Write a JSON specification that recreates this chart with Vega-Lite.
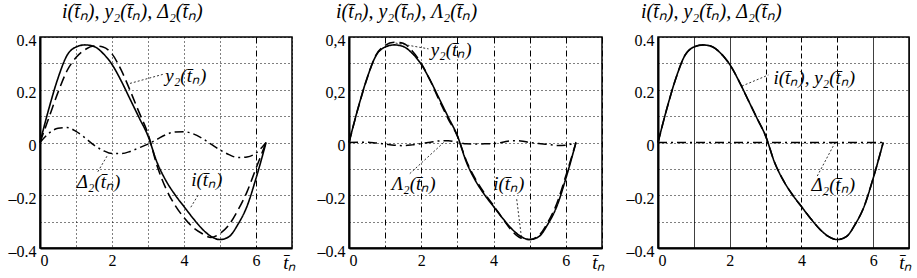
{
  "$schema": "https://vega.github.io/schema/vega-lite/v6.json",
  "background": "white",
  "padding": {"left": 7, "top": 1, "right": 0, "bottom": 0},
  "spacing": 19,
  "config": {
    "font": "Liberation Serif",
    "view": {"stroke": "black", "strokeWidth": 1.5},
    "axis": {
      "labelFont": "Liberation Serif", "labelFontSize": 16, "labelColor": "black",
      "ticks": false, "domainColor": "black", "domainWidth": 2,
      "grid": true, "gridColor": "black", "gridOpacity": 1, "gridWidth": 1, "gridDash": [1, 3],
      "titleFont": "Liberation Serif", "titleFontStyle": "italic", "titleFontWeight": "normal",
      "titleFontSize": 19, "titleColor": "black"
    },
    "text": {"font": "Liberation Serif", "fontStyle": "italic", "fontSize": 19, "color": "black"}
  },
  "datasets": {
    "c": [
      {"p":1,"t":0,"i":0,"y2":0,"d":0},
      {"p":1,"t":0.25,"i":0.13,"y2":0.095,"d":0.035},
      {"p":1,"t":0.5,"i":0.244,"y2":0.19,"d":0.054},
      {"p":1,"t":0.75,"i":0.33,"y2":0.272,"d":0.057},
      {"p":1,"t":1.0,"i":0.362,"y2":0.322,"d":0.042},
      {"p":1,"t":1.25,"i":0.37,"y2":0.352,"d":0.018},
      {"p":1,"t":1.5,"i":0.364,"y2":0.366,"d":-0.01},
      {"p":1,"t":1.75,"i":0.338,"y2":0.362,"d":-0.03},
      {"p":1,"t":2.0,"i":0.296,"y2":0.336,"d":-0.042},
      {"p":1,"t":2.25,"i":0.235,"y2":0.276,"d":-0.042},
      {"p":1,"t":2.5,"i":0.165,"y2":0.198,"d":-0.034},
      {"p":1,"t":2.75,"i":0.095,"y2":0.115,"d":-0.02},
      {"p":1,"t":3.0,"i":0.025,"y2":0.033,"d":-0.006},
      {"p":1,"t":3.25,"i":-0.075,"y2":-0.087,"d":0.012},
      {"p":1,"t":3.5,"i":-0.145,"y2":-0.175,"d":0.03},
      {"p":1,"t":3.75,"i":-0.198,"y2":-0.238,"d":0.04},
      {"p":1,"t":4.0,"i":-0.243,"y2":-0.285,"d":0.041},
      {"p":1,"t":4.25,"i":-0.287,"y2":-0.322,"d":0.033},
      {"p":1,"t":4.5,"i":-0.327,"y2":-0.345,"d":0.016},
      {"p":1,"t":4.75,"i":-0.356,"y2":-0.36,"d":-0.006},
      {"p":1,"t":5.0,"i":-0.368,"y2":-0.345,"d":-0.028},
      {"p":1,"t":5.25,"i":-0.357,"y2":-0.312,"d":-0.046},
      {"p":1,"t":5.5,"i":-0.31,"y2":-0.256,"d":-0.057},
      {"p":1,"t":5.75,"i":-0.242,"y2":-0.187,"d":-0.055},
      {"p":1,"t":6.0,"i":-0.136,"y2":-0.098,"d":-0.04},
      {"p":1,"t":6.28,"i":0,"y2":0,"d":0},

      {"p":2,"t":0,"i":0,"y2":0,"d":0},
      {"p":2,"t":0.25,"i":0.13,"y2":0.129,"d":0.001},
      {"p":2,"t":0.5,"i":0.244,"y2":0.243,"d":0.001},
      {"p":2,"t":0.75,"i":0.33,"y2":0.332,"d":-0.002},
      {"p":2,"t":1.0,"i":0.362,"y2":0.368,"d":-0.006},
      {"p":2,"t":1.25,"i":0.37,"y2":0.38,"d":-0.01},
      {"p":2,"t":1.5,"i":0.364,"y2":0.376,"d":-0.012},
      {"p":2,"t":1.75,"i":0.338,"y2":0.347,"d":-0.009},
      {"p":2,"t":2.0,"i":0.296,"y2":0.3,"d":-0.004},
      {"p":2,"t":2.25,"i":0.235,"y2":0.234,"d":0.001},
      {"p":2,"t":2.5,"i":0.165,"y2":0.159,"d":0.006},
      {"p":2,"t":2.75,"i":0.095,"y2":0.088,"d":0.007},
      {"p":2,"t":3.0,"i":0.025,"y2":0.024,"d":0.001},
      {"p":2,"t":3.25,"i":-0.075,"y2":-0.07,"d":-0.005},
      {"p":2,"t":3.5,"i":-0.145,"y2":-0.139,"d":-0.006},
      {"p":2,"t":3.75,"i":-0.198,"y2":-0.193,"d":-0.005},
      {"p":2,"t":4.0,"i":-0.243,"y2":-0.239,"d":-0.004},
      {"p":2,"t":4.25,"i":-0.287,"y2":-0.288,"d":0.001},
      {"p":2,"t":4.5,"i":-0.327,"y2":-0.334,"d":0.007},
      {"p":2,"t":4.75,"i":-0.356,"y2":-0.362,"d":0.006},
      {"p":2,"t":5.0,"i":-0.368,"y2":-0.368,"d":0},
      {"p":2,"t":5.25,"i":-0.357,"y2":-0.353,"d":-0.004},
      {"p":2,"t":5.5,"i":-0.31,"y2":-0.303,"d":-0.007},
      {"p":2,"t":5.75,"i":-0.242,"y2":-0.231,"d":-0.011},
      {"p":2,"t":6.0,"i":-0.136,"y2":-0.126,"d":-0.01},
      {"p":2,"t":6.28,"i":0,"y2":0,"d":0},

      {"p":3,"t":0,"i":0,"y2":0,"d":0},
      {"p":3,"t":0.25,"i":0.13,"y2":0.13,"d":0},
      {"p":3,"t":0.5,"i":0.244,"y2":0.244,"d":0},
      {"p":3,"t":0.75,"i":0.33,"y2":0.33,"d":0},
      {"p":3,"t":1.0,"i":0.362,"y2":0.362,"d":0},
      {"p":3,"t":1.25,"i":0.37,"y2":0.37,"d":0},
      {"p":3,"t":1.5,"i":0.364,"y2":0.364,"d":0},
      {"p":3,"t":1.75,"i":0.338,"y2":0.338,"d":0},
      {"p":3,"t":2.0,"i":0.296,"y2":0.296,"d":0},
      {"p":3,"t":2.25,"i":0.235,"y2":0.235,"d":0},
      {"p":3,"t":2.5,"i":0.165,"y2":0.165,"d":0},
      {"p":3,"t":2.75,"i":0.095,"y2":0.095,"d":0},
      {"p":3,"t":3.0,"i":0.025,"y2":0.025,"d":0},
      {"p":3,"t":3.25,"i":-0.075,"y2":-0.075,"d":0},
      {"p":3,"t":3.5,"i":-0.145,"y2":-0.145,"d":0},
      {"p":3,"t":3.75,"i":-0.198,"y2":-0.198,"d":0},
      {"p":3,"t":4.0,"i":-0.243,"y2":-0.243,"d":0},
      {"p":3,"t":4.25,"i":-0.287,"y2":-0.287,"d":0},
      {"p":3,"t":4.5,"i":-0.327,"y2":-0.327,"d":0},
      {"p":3,"t":4.75,"i":-0.356,"y2":-0.356,"d":0},
      {"p":3,"t":5.0,"i":-0.368,"y2":-0.368,"d":0},
      {"p":3,"t":5.25,"i":-0.357,"y2":-0.357,"d":0},
      {"p":3,"t":5.5,"i":-0.31,"y2":-0.31,"d":0},
      {"p":3,"t":5.75,"i":-0.242,"y2":-0.242,"d":0},
      {"p":3,"t":6.0,"i":-0.136,"y2":-0.136,"d":0},
      {"p":3,"t":6.28,"i":0,"y2":0,"d":0}
    ],
    "lab": [
      {"p":1,"t":3.48,"v":0.252,"txt":"y\u2082(t\u0304\u2099)"},
      {"p":1,"t":1.02,"v":-0.148,"txt":"\u0394\u2082(t\u0304\u2099)"},
      {"p":1,"t":4.2,"v":-0.144,"txt":"i(t\u0304\u2099)"},
      {"p":2,"t":2.26,"v":0.352,"txt":"y\u2082(t\u0304\u2099)"},
      {"p":2,"t":1.18,"v":-0.158,"txt":"\u039b\u2082(t\u0304\u2099)"},
      {"p":2,"t":3.99,"v":-0.158,"txt":"i(t\u0304\u2099)"},
      {"p":3,"t":3.22,"v":0.245,"txt":"i(t\u0304\u2099), y\u2082(t\u0304\u2099)"},
      {"p":3,"t":4.28,"v":-0.161,"txt":"\u0394\u2082(t\u0304\u2099)"}
    ],
    "lead": [
      {"p":1,"t":2.5,"v":0.224,"t2":3.43,"v2":0.259},
      {"p":1,"t":1.86,"v":-0.052,"t2":1.58,"v2":-0.117},
      {"p":1,"t":4.39,"v":-0.2,"t2":4.16,"v2":-0.252},
      {"p":2,"t":1.29,"v":0.377,"t2":2.2,"v2":0.355},
      {"p":2,"t":2.62,"v":0.0,"t2":1.65,"v2":-0.122},
      {"p":2,"t":4.64,"v":-0.215,"t2":4.77,"v2":-0.358},
      {"p":3,"t":2.34,"v":0.214,"t2":3.08,"v2":0.256},
      {"p":3,"t":4.94,"v":0.0,"t2":4.43,"v2":-0.13}
    ]
  },
  "hconcat": [
    {
      "width": 252, "height": 211,
      "title": {"text": "i(t\u0304\u2099), y\u2082(t\u0304\u2099), \u0394\u2082(t\u0304\u2099)", "anchor": "start", "frame": "group", "dx": 22, "offset": -10, "baseline": "bottom", "font": "Liberation Serif", "fontStyle": "italic", "fontWeight": "normal", "fontSize": 20, "color": "black"},
      "encoding": {
        "x": {"field": "t", "type": "quantitative", "scale": {"domain": [0, 7], "nice": false},
          "axis": {"values": [0,1,2,3,4,5,6,7], "labelExpr": "datum.value % 2 == 0 && datum.value < 7 ? datum.label : ''", "labelPadding": 4,
            "gridDash": {"condition": {"test": "datum.value == 6", "value": [6,3,1,3]}, "value": [1,3]},
            "title": "t\u0304\u2099", "titleX": 256, "titleY": 20, "titleAlign": "right", "titleBaseline": "alphabetic"}},
        "y": {"field": "v", "type": "quantitative", "scale": {"domain": [-0.4, 0.4], "nice": false},
          "axis": {"values": [-0.4,-0.3,-0.2,-0.1,0,0.1,0.2,0.3,0.4], "labelPadding": 4, "labelOffset": 3, "title": null,
            "labelExpr": "abs(round(datum.value*10)) % 2 == 1 ? '' : datum.value == 0 ? '0' : (datum.value < 0 ? '\u2013' : '') + format(abs(datum.value), '.1f')"}}
      },
      "layer": [
        {
          "data": {"name": "c"},
          "transform": [{"filter": "datum.p == 1"}, {"fold": ["i", "y2", "d"], "as": ["s", "v"]}],
          "mark": {"type": "line", "interpolate": "monotone", "color": "black"},
          "encoding": {
            "strokeDash": {"field": "s", "type": "nominal", "scale": {"domain": ["i","y2","d"], "range": [[1,0],[10,5],[9,4,2,4]]}, "legend": null},
            "strokeWidth": {"field": "s", "type": "nominal", "scale": {"domain": ["i","y2","d"], "range": [1.6,1.5,1.2]}, "legend": null}
          }
        },
        {
          "data": {"name": "lead"},
          "transform": [{"filter": "datum.p == 1"}],
          "mark": {"type": "rule", "color": "black", "strokeWidth": 0.8, "strokeDash": [2,2]},
          "encoding": {"x2": {"field": "t2"}, "y2": {"field": "v2"}}
        },
        {
          "data": {"name": "lab"},
          "transform": [{"filter": "datum.p == 1"}],
          "mark": {"type": "text", "align": "left", "baseline": "middle"},
          "encoding": {"text": {"field": "txt"}}
        }
      ]
    },
    {
      "width": 253, "height": 211,
      "title": {"text": "i(t\u0304\u2099), y\u2082(t\u0304\u2099), \u039b\u2082(t\u0304\u2099)", "anchor": "start", "frame": "group", "dx": -13, "offset": -10, "baseline": "bottom", "font": "Liberation Serif", "fontStyle": "italic", "fontWeight": "normal", "fontSize": 20, "color": "black"},
      "encoding": {
        "x": {"field": "t", "type": "quantitative", "scale": {"domain": [0, 7], "nice": false},
          "axis": {"values": [0,1,2,3,4,5,6,7], "labelExpr": "datum.value % 2 == 0 && datum.value < 7 ? datum.label : ''", "labelPadding": 4,
            "gridDash": [6,3,1,3],
            "title": "t\u0304\u2099", "titleX": 256, "titleY": 20, "titleAlign": "right", "titleBaseline": "alphabetic"}},
        "y": {"field": "v", "type": "quantitative", "scale": {"domain": [-0.4, 0.4], "nice": false},
          "axis": {"values": [-0.4,-0.3,-0.2,-0.1,0,0.1,0.2,0.3,0.4], "labelPadding": 4, "labelOffset": 3, "title": null,
            "labelExpr": "abs(round(datum.value*10)) % 2 == 1 ? '' : datum.value == 0 ? '0' : datum.value < 0 ? '\u2013' + format(abs(datum.value), '.1f') : replace(format(datum.value, '.1f'), '.', ',')"}}
      },
      "layer": [
        {
          "data": {"name": "c"},
          "transform": [{"filter": "datum.p == 2"}, {"fold": ["i", "y2", "d"], "as": ["s", "v"]}],
          "mark": {"type": "line", "interpolate": "monotone", "color": "black"},
          "encoding": {
            "strokeDash": {"field": "s", "type": "nominal", "scale": {"domain": ["i","y2","d"], "range": [[1,0],[10,5],[9,4,2,4]]}, "legend": null},
            "strokeWidth": {"field": "s", "type": "nominal", "scale": {"domain": ["i","y2","d"], "range": [2,2,1.5]}, "legend": null}
          }
        },
        {
          "data": {"name": "lead"},
          "transform": [{"filter": "datum.p == 2"}],
          "mark": {"type": "rule", "color": "black", "strokeWidth": 0.8, "strokeDash": [2,2]},
          "encoding": {"x2": {"field": "t2"}, "y2": {"field": "v2"}}
        },
        {
          "data": {"name": "lab"},
          "transform": [{"filter": "datum.p == 2"}],
          "mark": {"type": "text", "align": "left", "baseline": "middle"},
          "encoding": {"text": {"field": "txt"}}
        }
      ]
    },
    {
      "width": 251, "height": 211,
      "title": {"text": "i(t\u0304\u2099), y\u2082(t\u0304\u2099), \u0394\u2082(t\u0304\u2099)", "anchor": "start", "frame": "group", "dx": -17, "offset": -10, "baseline": "bottom", "font": "Liberation Serif", "fontStyle": "italic", "fontWeight": "normal", "fontSize": 20, "color": "black"},
      "encoding": {
        "x": {"field": "t", "type": "quantitative", "scale": {"domain": [0, 7], "nice": false},
          "axis": {"values": [0,1,2,3,4,5,6,7], "labelExpr": "datum.value % 2 == 0 && datum.value < 7 ? datum.label : ''", "labelPadding": 4,
            "gridDash": {"condition": {"test": "datum.value >= 3 && datum.value <= 5", "value": [5,3]}, "value": [1,0]},
            "title": "t\u0304\u2099", "titleX": 254, "titleY": 20, "titleAlign": "right", "titleBaseline": "alphabetic"}},
        "y": {"field": "v", "type": "quantitative", "scale": {"domain": [-0.4, 0.4], "nice": false},
          "axis": {"values": [-0.4,-0.3,-0.2,-0.1,0,0.1,0.2,0.3,0.4], "labelPadding": 4, "labelOffset": 3, "title": null,
            "labelExpr": "abs(round(datum.value*10)) % 2 == 1 ? '' : datum.value == 0 ? '0' : (datum.value < 0 ? '\u2013' : '') + format(abs(datum.value), '.1f')"}}
      },
      "layer": [
        {
          "data": {"name": "c"},
          "transform": [{"filter": "datum.p == 3"}, {"fold": ["i", "y2", "d"], "as": ["s", "v"]}],
          "mark": {"type": "line", "interpolate": "monotone", "color": "black"},
          "encoding": {
            "strokeDash": {"field": "s", "type": "nominal", "scale": {"domain": ["i","y2","d"], "range": [[1,0],[1,0],[9,4,2,4]]}, "legend": null},
            "strokeWidth": {"field": "s", "type": "nominal", "scale": {"domain": ["i","y2","d"], "range": [1.5,1.5,1.5]}, "legend": null}
          }
        },
        {
          "data": {"name": "lead"},
          "transform": [{"filter": "datum.p == 3"}],
          "mark": {"type": "rule", "color": "black", "strokeWidth": 0.8, "strokeDash": [2,2]},
          "encoding": {"x2": {"field": "t2"}, "y2": {"field": "v2"}}
        },
        {
          "data": {"name": "lab"},
          "transform": [{"filter": "datum.p == 3"}],
          "mark": {"type": "text", "align": "left", "baseline": "middle"},
          "encoding": {"text": {"field": "txt"}}
        }
      ]
    }
  ]
}
